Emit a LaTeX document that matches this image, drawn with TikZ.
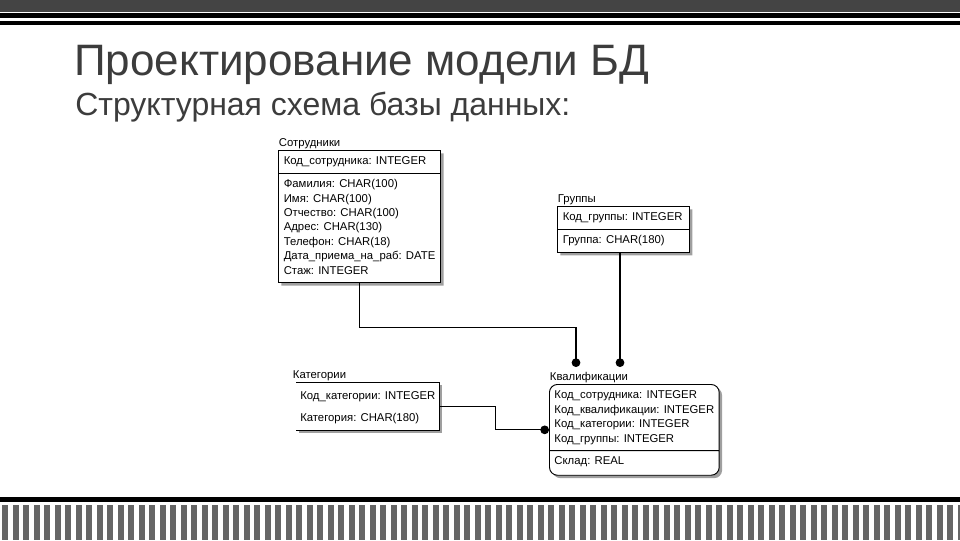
\documentclass[tikz,border=0pt]{standalone}
\usepackage{fontspec}
\setmainfont{Liberation Sans}
\usetikzlibrary{shapes.multipart,shadows,arrows.meta,positioning,calc}
\definecolor{titlegray}{HTML}{3C3C3C}
\definecolor{bandgray}{HTML}{444444}
\definecolor{stripegray}{HTML}{666666}
\newcommand{\attrs}[1]{\begin{tabular}{@{}l@{}}#1\end{tabular}}

\begin{document}
\begin{tikzpicture}[
    x=0.75pt, y=-0.75pt,
    entity/.style={rectangle split, rectangle split parts=2, rectangle split part align=left, draw, line width=0.7pt, fill=white, anchor=north west, inner xsep=4pt, inner ysep=2.85pt, font=\fontsize{8.5}{10.8}\selectfont, drop shadow={shadow xshift=2.2pt, shadow yshift=-2.2pt, opacity=1, fill=gray!75}},
    lbl/.style={anchor=south west, inner sep=0.5pt, font=\fontsize{8.5}{10.8}\selectfont},
    rel/.style={-{Circle[length=6.5pt]}, line width=0.8pt}
]
    \useasboundingbox (0,0) rectangle (960,540);

    % slide frame
    \fill[bandgray] (0,0) rectangle (960,12);
    \fill[black] (0,13) rectangle (960,18);
    \fill[black] (0,21) rectangle (960,25);
    \fill[black] (0,497) rectangle (960,502);
    \foreach \i in {0,...,91}
        \fill[stripegray] ({2+\i*10.5},505) rectangle ++(6,35);

    \node[anchor=base west, inner sep=0, font=\fontsize{33}{40}\selectfont, text=titlegray] (title) at (74,75) {Проектирование модели БД};
    \node[anchor=base west, inner sep=0, font=\fontsize{24}{30}\selectfont, text=titlegray] (subtitle) at (75,115) {Структурная схема базы данных:};

    % entities
    \node[entity, minimum width=121.5pt] (sotr) at (278,150)
        {\attrs{Код\_сотрудника: INTEGER}
         \nodepart{two}\attrs{Фамилия: CHAR(100)\\Имя: CHAR(100)\\Отчество: CHAR(100)\\Адрес: CHAR(130)\\Телефон: CHAR(18)\\Дата\_приема\_на\_раб: DATE\\Стаж: INTEGER}};
    \node[lbl] (sotrlbl) at (sotr.north west) {Сотрудники};

    \node[entity, minimum width=99pt] (gruppy) at (557,206)
        {\attrs{Код\_группы: INTEGER}
         \nodepart{two}\attrs{Группа: CHAR(180)}};
    \node[lbl] (gruppylbl) at (gruppy.north west) {Группы};

    \node[rectangle, fill=white, anchor=north west, minimum width=105pt, inner xsep=3pt, inner ysep=2.25pt, font=\fontsize{8.5}{10.8}\selectfont, drop shadow={shadow xshift=2.2pt, shadow yshift=-2.2pt, opacity=1, fill=gray!75}] (kateg) at (296,382)
        {\renewcommand{\arraystretch}{1.46}\attrs{Код\_категории: INTEGER\\Категория: CHAR(180)}};
    \draw[line width=0.7pt] (kateg.north west) -- (kateg.north east) -- (kateg.south east) -- (kateg.south west);
    \node[lbl, xshift=-3pt] (kateglbl) at (kateg.north west) {Категории};

    \node[entity, rounded corners=6pt, inner xsep=3.75pt, minimum width=126.75pt] (kval) at (549,384)
        {\attrs{Код\_сотрудника: INTEGER\\Код\_квалификации: INTEGER\\Код\_категории: INTEGER\\Код\_группы: INTEGER}
         \nodepart{two}\attrs{Склад: REAL\rule[-4.5pt]{0pt}{4.5pt}}};
    \node[lbl] (kvallbl) at (kval.north west) {Квалификации};

    % relationships
    \coordinate (kvsotr) at (576,367);
    \coordinate (kvgrp) at (620,367);
    \draw[rel] (sotr.south) -- ++(0,44) -| (kvsotr);
    \draw[rel] (gruppy.south -| kvgrp) -- (kvgrp);
    \draw[rel] (kateg.east) -- ++(56,0) |- (kval.west);
\end{tikzpicture}
\end{document}
